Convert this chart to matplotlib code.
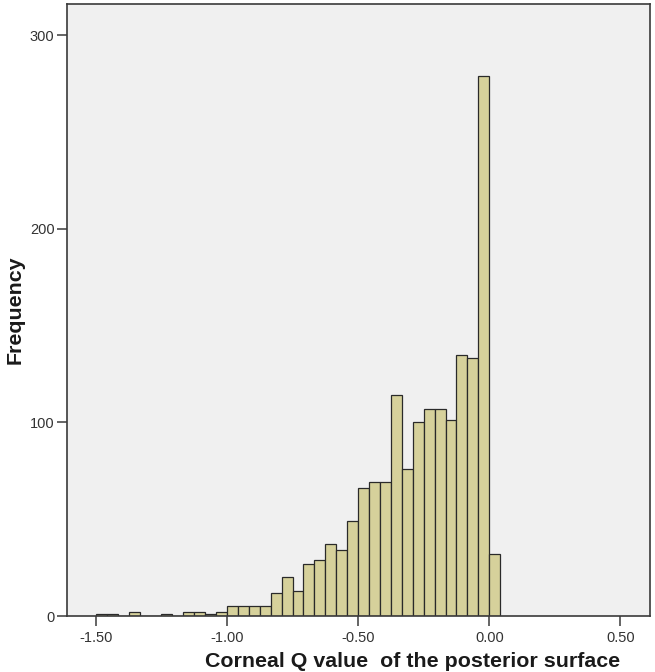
import numpy as np
import matplotlib
matplotlib.use("Agg")
import matplotlib.pyplot as plt

# histogram data (bin width 1/24, first bin starts at -1.50)
bin_start = -1.5
bin_width = 1 / 24
counts = [1, 1, 0, 2, 0, 0, 1, 0, 2, 2, 1, 2,
          5, 5, 5, 5, 12, 20, 13, 27, 29, 37, 34, 49,
          66, 69, 69, 114, 76, 100, 107, 107, 101, 135, 133, 279,
          32]
x_ticks = [-1.5, -1.0, -0.5, 0.0, 0.5]
x_tick_labels = ["-1.50", "-1.00", "-0.50", "0.00", "0.50"]
y_ticks = [0, 100, 200, 300]

plt.rcParams['font.family'] = ['Liberation Sans', 'DejaVu Sans']

fig = plt.figure(figsize=(6.55, 6.72), dpi=100)
ax = fig.add_axes([0.1023, 0.0833, 0.8901, 0.9107])
ax.set_facecolor('#f0f0f0')

lefts = bin_start + bin_width * np.arange(len(counts))
ax.bar(lefts, counts, width=bin_width, align='edge',
       color='#d6d19b', edgecolor='#2a2a2a', linewidth=0.9)

ax.set_xlim(-1.61, 0.613)
ax.set_ylim(0, 316)
ax.set_xticks(x_ticks)
ax.set_xticklabels(x_tick_labels)
ax.set_yticks(y_ticks)

for s in ax.spines.values():
    s.set_color('#3a3a3a')
    s.set_linewidth(1.2)

ax.tick_params(axis='both', direction='out', length=7, width=1.1,
               color='#3a3a3a', labelsize=10.5, labelcolor='#333333')
ax.tick_params(axis='x', pad=4)
ax.tick_params(axis='y', pad=2)

ax.set_xlabel('Corneal Q value  of the posterior surface', fontsize=15.4,
              fontweight='bold', color='#1a1a1a', va='baseline')
ax.xaxis.set_label_coords(0.593, -0.0835)
ax.set_ylabel('Frequency', fontsize=15.4, fontweight='bold', color='#1a1a1a')
ax.yaxis.set_label_coords(-0.073, 0.5)

fig.savefig('out.png', dpi=100)
